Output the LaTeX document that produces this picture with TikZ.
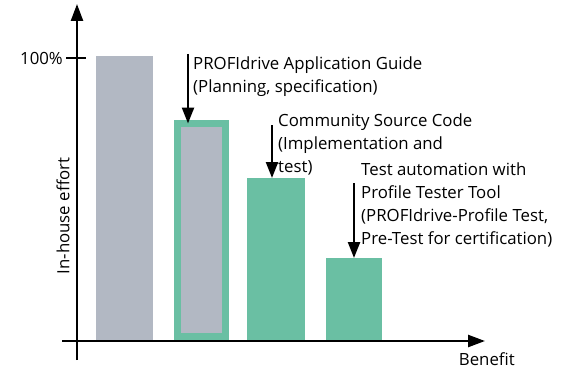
\documentclass[tikz,border=0pt]{standalone}
\usepackage{fontspec}
\setmainfont{Open Sans}
\usetikzlibrary{arrows.meta}
\definecolor{barGray}{HTML}{B2B8C3}
\definecolor{barGreen}{HTML}{6ABFA3}
\tikzset{every node/.style={font=\fontsize{16.8}{23}\selectfont},line cap=butt,line join=miter}
\tikzset{
  axis/.style={line width=2.4pt,-{Triangle[length=17pt,width=12pt]}},
  pointer/.style={line width=2.4pt,-{Triangle[length=16pt,width=12pt]}},
  bar/.style={inner sep=0pt,outer sep=0pt,anchor=south west},
  note/.style={align=left,anchor=north west,inner sep=0pt}
}

\begin{document}
\begin{tikzpicture}[x=1pt,y=-1pt]
  \path[use as bounding box] (0,0) rectangle (567,369);
  % bars
  \node[bar,fill=barGray,minimum width=57pt,minimum height=284pt] (manual) at (96,340) {};
  \node[bar,fill=barGray,draw=barGreen,line width=7pt,minimum width=48pt,minimum height=213pt] (guide) at (177.5,336.5) {};
  \node[bar,fill=barGreen,minimum width=58pt,minimum height=162pt] (source) at (247,340) {};
  \node[bar,fill=barGreen,minimum width=56pt,minimum height=82pt] (tester) at (326,340) {};
  % axes
  \coordinate (ybot) at (77,360);
  \coordinate (ytop) at (77,4);
  \coordinate (xleft) at (62,341);
  \coordinate (xright) at (485,341);
  \draw[axis] (ybot) -- (ytop);
  \draw[axis] (xleft) -- (xright);
  \draw[line width=2.4pt] (66,58) -- (86,58);
  \node[anchor=east,inner sep=0pt] (full) at (63,58) {100\%};
  \node[anchor=base east,inner sep=0pt] (benefit) at (515,365) {Benefit};
  \node[rotate=90,inner sep=0pt] (effort) at (63,216) {In-house effort};
  % notes
  \node[note] (guidetext) at (193,57) {PROFIdrive Application Guide\\(Planning, specification)};
  \node[note] (sourcetext) at (278,114) {Community Source Code\\(Implementation and\\test)};
  \node[note] (testertext) at (361,163) {Test automation with\\Profile Tester Tool\\(PROFIdrive-Profile Test,\\Pre-Test for certification)};
  \coordinate (guidestart) at (188,54);
  \coordinate (sourcestart) at (272,125);
  \coordinate (testerstart) at (354,183);
  \draw[pointer] (guidestart) -- (guidestart |- guide.north);
  \draw[pointer] (sourcestart) -- (sourcestart |- source.north);
  \draw[pointer] (testerstart) -- (testerstart |- tester.north);
\end{tikzpicture}
\end{document}
